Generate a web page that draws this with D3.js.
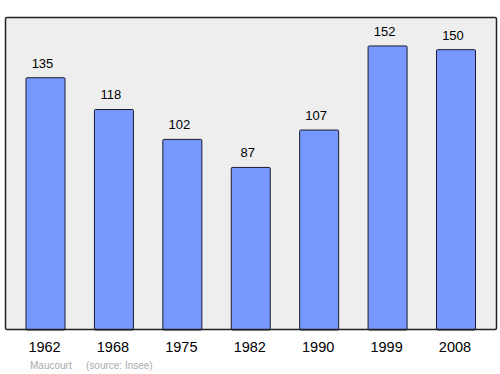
<!DOCTYPE html>
<html>
<head>
<meta charset="utf-8">
<script src="https://cdn.jsdelivr.net/npm/d3@7"></script>
<style>
  body { margin: 0; background: #fff; }
  svg { display: block; font-family: "Liberation Sans", Arial, sans-serif; }
</style>
</head>
<body>
<div id="chart"></div>
<script>
var years = ["1962", "1968", "1975", "1982", "1990", "1999", "2008"];
var population = [135, 118, 102, 87, 107, 152, 150];
var commune = "Maucourt";
var source = "(source: Insee)";

var width = 500, height = 374;
// frame of the plot area
var frame = { left: 5.5, top: 17.5, right: 496.5, bottom: 329.5 };

var svg = d3.select("#chart")
  .append("svg")
  .attr("width", width)
  .attr("height", height);

// background panel
svg.append("rect")
  .attr("x", frame.left)
  .attr("y", frame.top)
  .attr("width", frame.right - frame.left)
  .attr("height", frame.bottom - frame.top)
  .attr("rx", 1.5)
  .attr("fill", "#eeeeee")
  .attr("stroke", "none");

var x = d3.scaleBand()
  .domain(years)
  .range([11.3, 490.2])
  .paddingInner(0.43)
  .paddingOuter(0.215);

var y = d3.scaleLinear()
  .domain([0, 167.5])
  .range([330, 17]);

// bars
svg.selectAll(".bar")
  .data(population)
  .enter()
  .append("rect")
  .attr("class", "bar")
  .attr("x", function(d, i) { return x(years[i]); })
  .attr("y", function(d) { return y(d); })
  .attr("width", x.bandwidth())
  .attr("height", function(d) { return y(0) - y(d); })
  .attr("rx", 1)
  .attr("fill", "#7799ff")
  .attr("stroke", "#1a1a2e")
  .attr("stroke-width", 1);

// value labels (sit a little left of the bar centre)
svg.selectAll(".label")
  .data(population)
  .enter()
  .append("text")
  .attr("class", "label")
  .attr("x", function(d, i) { return x(years[i]) + x.bandwidth() / 2 - 3; })
  .attr("y", function(d) { return y(d) - 10; })
  .attr("text-anchor", "middle")
  .style("font-size", "13px")
  .attr("fill", "#000")
  .text(function(d) { return d; });

// frame on top
svg.append("rect")
  .attr("x", frame.left)
  .attr("y", frame.top)
  .attr("width", frame.right - frame.left)
  .attr("height", frame.bottom - frame.top)
  .attr("rx", 1.5)
  .attr("fill", "none")
  .attr("stroke", "#222")
  .attr("stroke-width", 1.5);

// x axis labels
var xAxis = svg.append("g")
  .attr("transform", "translate(-1," + 330 + ")")
  .call(d3.axisBottom(x).tickSize(0).tickPadding(0));
xAxis.select(".domain").remove();
xAxis.selectAll("text")
  .attr("dy", null)
  .attr("y", 22)
  .style("font-size", "14.5px")
  .style("font-family", "Liberation Sans, Arial, sans-serif")
  .attr("fill", "#000");

// footer
svg.append("text")
  .attr("x", 30)
  .attr("y", 369)
  .style("font-size", "10px")
  .attr("fill", "#aaaaaa")
  .text(commune);

svg.append("text")
  .attr("x", 86)
  .attr("y", 369)
  .style("font-size", "10px")
  .attr("fill", "#aaaaaa")
  .text(source);
</script>
</body>
</html>
